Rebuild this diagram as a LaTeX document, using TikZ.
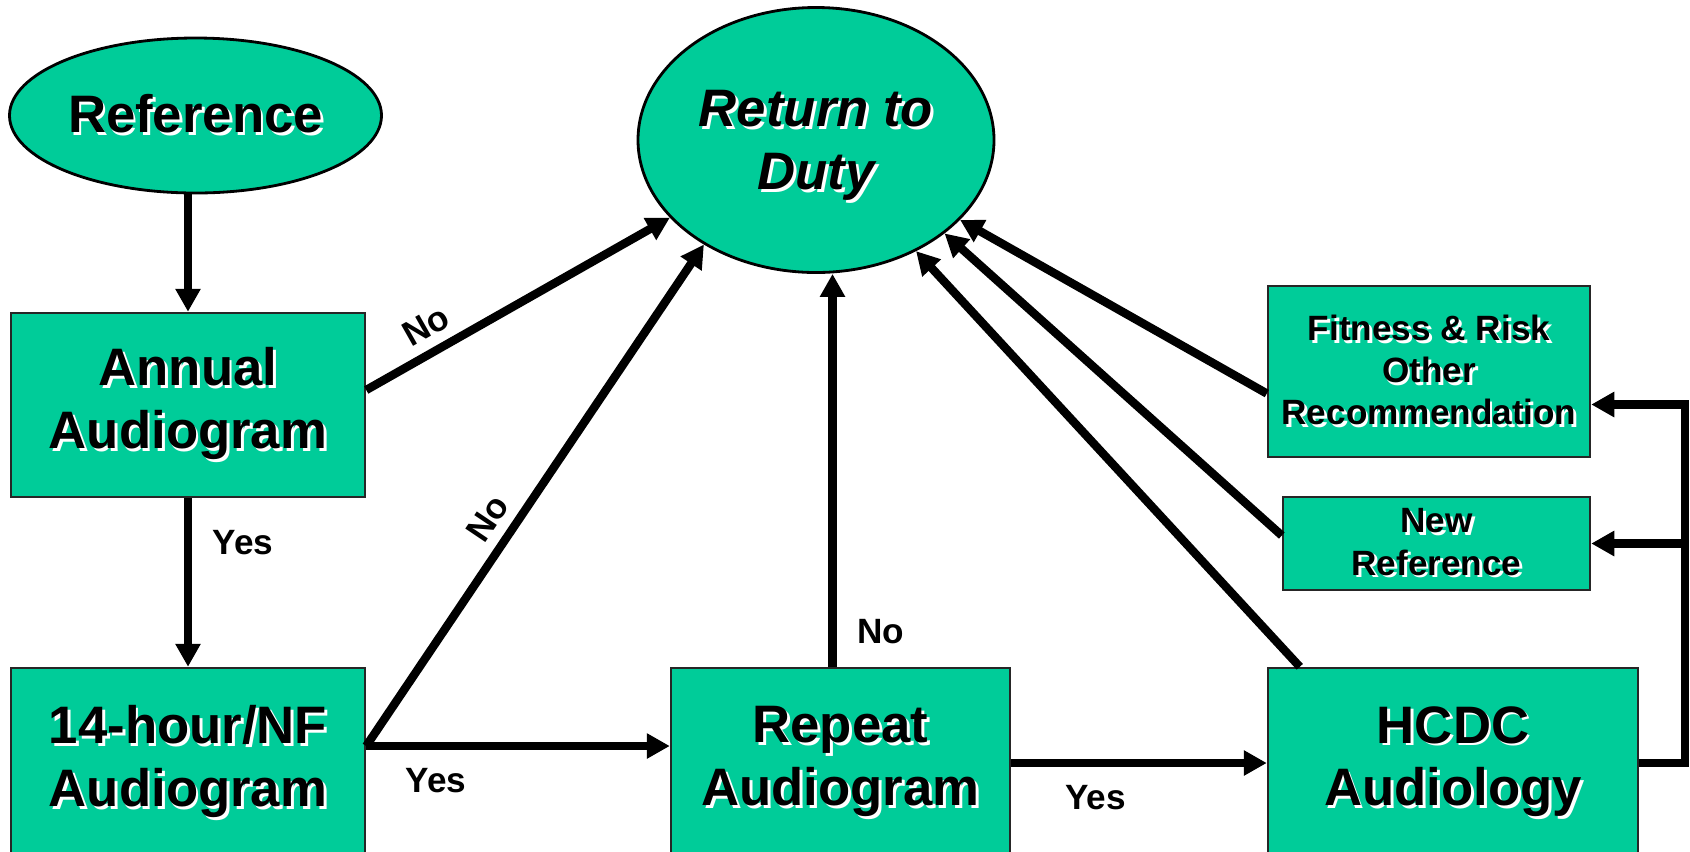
\documentclass[tikz,border=0pt]{standalone}
\usepackage{fontspec}
\setmainfont{Liberation Sans}
\usetikzlibrary{arrows.meta,shapes.geometric}
\definecolor{boxgreen}{RGB}{0,204,153}
% text with a white drop shadow
\newcommand\shd[1]{\makebox[0pt][l]{\kern.8pt\raisebox{-.8pt}{\color{white}#1}}#1}
\tikzset{
  box/.style={draw=black!85,line width=.7pt,fill=boxgreen,align=center,inner sep=0pt},
  bubble/.style={ellipse,draw=black,line width=.8pt,fill=boxgreen,inner sep=0pt},
  bigtext/.style={font=\fontsize{15}{17.8}\selectfont\bfseries,align=center},
  smalltext/.style={font=\fontsize{10}{12}\selectfont\bfseries,align=center},
  arr/.style={line width=2.4pt,-{Triangle[length=.23cm,width=.24cm]}},
  lbl/.style={font=\fontsize{10}{12}\selectfont\bfseries,inner sep=1pt}
}
\begin{document}
\begin{tikzpicture}
\useasboundingbox (0,0) rectangle (16.9,-8.51);
\clip (0,0) rectangle (16.9,-8.51);
\node[bubble,minimum width=3.72cm,minimum height=1.55cm] (ref) at (1.955,-1.155) {};
\node[bigtext] at (ref) {\shd{Reference}};
\node[bubble,minimum width=3.56cm,minimum height=2.65cm] (ret) at (8.16,-1.40) {};
\node[bigtext] at ([yshift=-.07cm]ret.center) {\shd{\itshape Return to}\\\shd{\itshape Duty}};
\node[box,bigtext,minimum width=3.54cm,minimum height=1.84cm] (ann) at (1.88,-4.05) {\shd{Annual}\\\shd{Audiogram}};
\node[box,bigtext,minimum width=3.54cm,minimum height=1.9cm] (hr) at (1.88,-7.63) {\shd{14-hour/NF}\\\shd{Audiogram}};
\node[box,bigtext,minimum width=3.39cm,minimum height=1.9cm] (rep) at (8.405,-7.63) {\shd{Repeat}\\\shd{Audiogram}};
\node[box,bigtext,minimum width=3.70cm,minimum height=1.9cm] (hcdc) at (14.53,-7.63) {\shd{HCDC}\\\shd{Audiology}};
\node[box,smalltext,minimum width=3.22cm,minimum height=1.71cm] (fit) at (14.29,-3.715) {\shd{Fitness \& Risk}\\\shd{Other}\\\shd{Recommendation}};
\node[box,smalltext,minimum width=3.07cm,minimum height=.93cm] (newref) at (14.365,-5.435) {\shd{New}\\\shd{Reference}};

\draw[arr] (ann.north |- ref.south) -- (ann.north);
\draw[arr] (ann.south) -- node[lbl,pos=.27,right=.17cm]{\shd{Yes}} (hr.north);
\draw[arr] ([yshift=.15cm]ann.east) -- node[lbl,pos=.24,sloped,above=1pt]{\shd{No}} (ret.208.7);
\coordinate (hrout) at ([yshift=.17cm]hr.east);
\draw[arr] (hrout) -- node[lbl,pos=.425,sloped,above=1pt]{\shd{No}} (ret.223.2);
\draw[arr] (hrout) -- node[lbl,pos=.23,below=.15cm]{\shd{Yes}} (hrout -| rep.west);
\draw[arr] ([xshift=-.08cm]rep.north) -- node[lbl,pos=.086,right=.17cm]{\shd{No}} ([xshift=-.08cm]rep.north |- ret.south);
\draw[arr] (rep.east) -- node[lbl,pos=.33,below=.15cm]{\shd{Yes}} (hcdc.west);
\draw[arr] ([xshift=.33cm]hcdc.north west) -- (ret.312.8);
\draw[arr] ([yshift=.08cm]newref.west) -- (ret.324.6);
\draw[arr] ([yshift=-.22cm]fit.west) -- (ret.331.3);
%% feedback from HCDC
\coordinate (fb) at (16.85,0);
\coordinate (fitin) at ([yshift=-.33cm]fit.east);
\draw[arr] (hcdc.east) -| (fb |- fitin) -- (fitin);
\draw[arr] (fb |- newref.east) -- (newref.east);
\end{tikzpicture}
\end{document}
